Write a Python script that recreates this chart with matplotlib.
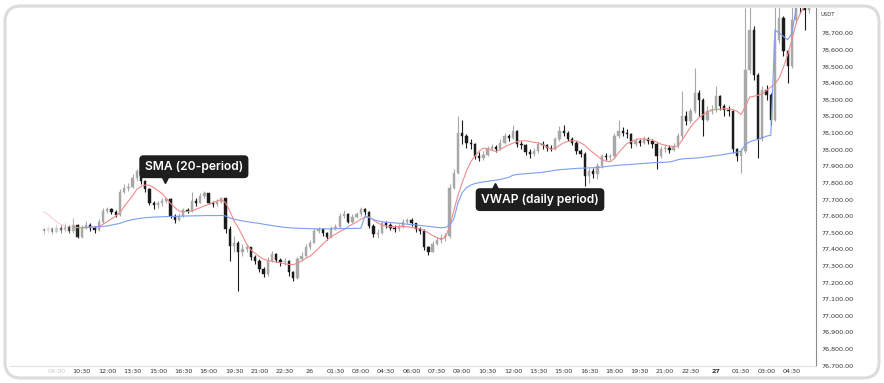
import numpy as np
import matplotlib.pyplot as plt
from matplotlib.patches import FancyBboxPatch

# 15-minute candles, starting 08:15 on the 25th
close = [77510, 77525, 77505, 77530, 77515, 77535, 77510, 77545, 77475, 77530,
         77545, 77525, 77515, 77565, 77630, 77640, 77625, 77605, 77745, 77765,
         77775, 77830, 77870, 77810, 77760, 77680, 77665, 77675, 77690, 77700,
         77600, 77575, 77600, 77635, 77630, 77690, 77680, 77720, 77735, 77680,
         77670, 77685, 77705, 77520, 77420, 77440, 77380, 77400, 77410, 77350,
         77330, 77280, 77250, 77330, 77370, 77335, 77320, 77330, 77260, 77225,
         77340, 77360, 77410, 77440, 77510, 77520, 77495, 77475, 77525, 77535,
         77600, 77610, 77565, 77595, 77610, 77640, 77625, 77540, 77490, 77495,
         77555, 77545, 77530, 77520, 77535, 77565, 77575, 77555, 77520, 77510,
         77410, 77385, 77430, 77455, 77470, 77480, 77770, 77860, 78100, 78080,
         78040, 78030, 77960, 77950, 77965, 78000, 78015, 78005, 78040, 78080,
         78070, 78110, 78030, 78025, 77985, 77970, 77990, 78030, 78025, 78010,
         78005, 78060, 78110, 78100, 78065, 78040, 77990, 77975, 77840, 77870,
         77850, 77900, 77960, 77955, 77960, 78080, 78110, 78100, 78090, 78030,
         78050, 78040, 78060, 78050, 78030, 77960, 78000, 78010, 77995, 78020,
         78080, 78200, 78170, 78230, 78340, 78300, 78180, 78230, 78240, 78320,
         78260, 78240, 78230, 78000, 77960, 77990, 78480, 78720, 78450, 78060,
         78360, 78330, 78180, 78660, 78790, 78590, 78500, 78780, 78900, 78870,
         78840, 78880]
high = [77530, 77545, 77530, 77550, 77545, 77555, 77545, 77590, 77550, 77545,
        77570, 77560, 77540, 77580, 77650, 77655, 77650, 77635, 77760, 77790,
        77800, 77850, 77885, 77870, 77815, 77765, 77690, 77690, 77705, 77715,
        77705, 77610, 77615, 77650, 77650, 77745, 77710, 77740, 77750, 77740,
        77690, 77700, 77715, 77710, 77540, 77480, 77450, 77430, 77430, 77415,
        77365, 77340, 77290, 77350, 77390, 77375, 77345, 77345, 77335, 77270,
        77355, 77380, 77430, 77455, 77525, 77535, 77530, 77505, 77540, 77550,
        77620, 77635, 77615, 77610, 77625, 77655, 77650, 77630, 77550, 77520,
        77570, 77570, 77555, 77545, 77550, 77580, 77590, 77585, 77560, 77535,
        77520, 77420, 77450, 77475, 77490, 77500, 77790, 77880, 78200, 78180,
        78090, 78060, 78040, 77985, 77990, 78020, 78030, 78025, 78060, 78100,
        78095, 78150, 78115, 78050, 78035, 78000, 78010, 78045, 78050, 78035,
        78025, 78075, 78140, 78150, 78110, 78075, 78050, 78005, 77985, 77890,
        77890, 77920, 77975, 77980, 77975, 78100, 78175, 78135, 78120, 78100,
        78070, 78065, 78080, 78075, 78060, 78040, 78020, 78030, 78025, 78040,
        78100, 78350, 78230, 78250, 78490, 78360, 78310, 78260, 78265, 78380,
        78330, 78275, 78260, 78240, 78010, 78010, 78850, 78860, 78740, 78460,
        78380, 78390, 78340, 78860, 78860, 78800, 78600, 78900, 78950, 78950,
        78880, 78920]
low = [77490, 77500, 77490, 77495, 77500, 77505, 77495, 77500, 77465, 77470,
       77520, 77510, 77500, 77510, 77560, 77615, 77610, 77595, 77600, 77735,
       77750, 77765, 77815, 77795, 77745, 77665, 77640, 77645, 77660, 77680,
       77585, 77560, 77570, 77595, 77615, 77625, 77660, 77675, 77705, 77670,
       77655, 77660, 77675, 77500, 77330, 77380, 77150, 77360, 77380, 77335,
       77310, 77260, 77230, 77240, 77320, 77320, 77300, 77305, 77240, 77210,
       77220, 77330, 77355, 77400, 77435, 77495, 77480, 77455, 77470, 77515,
       77530, 77585, 77555, 77560, 77585, 77600, 77605, 77530, 77475, 77470,
       77490, 77530, 77515, 77505, 77510, 77530, 77550, 77540, 77505, 77490,
       77395, 77365, 77380, 77425, 77440, 77450, 77470, 77760, 77850, 78030,
       78010, 78000, 77940, 77930, 77935, 77960, 77995, 77985, 77995, 78030,
       78050, 78060, 78015, 78005, 77965, 77950, 77960, 77980, 78005, 77990,
       77990, 77995, 78050, 78080, 78050, 78025, 77975, 77955, 77780, 77800,
       77830, 77820, 77890, 77935, 77935, 77950, 78070, 78080, 78070, 78010,
       78020, 78020, 78035, 78035, 78010, 77880, 77950, 77985, 77980, 77990,
       78010, 78070, 78150, 78160, 78220, 78200, 78080, 78170, 78215, 78225,
       78240, 78200, 78200, 77980, 77930, 77860, 77980, 78460, 78420, 77950,
       78050, 78300, 78150, 78170, 78640, 78560, 78400, 78490, 78760, 78820,
       78720, 78820]
first_open = 77520

sma20 = [77625, 77610, 77585, 77565, 77550, 77540, 77535, 77532, 77530, 77529,
         77530, 77532, 77534, 77537, 77550, 77566, 77582, 77598, 77620, 77655,
         77690, 77720, 77760, 77778, 77786, 77785, 77770, 77752, 77735, 77705,
         77675, 77650, 77630, 77625, 77626, 77630, 77640, 77650, 77660, 77670,
         77680, 77690, 77698, 77680, 77630, 77570, 77530, 77480, 77430, 77395,
         77375, 77355, 77340, 77332, 77327, 77322, 77318, 77312, 77308, 77307,
         77315, 77330, 77345, 77358, 77380, 77405, 77430, 77455, 77475, 77490,
         77505, 77518, 77535, 77550, 77563, 77580, 77592, 77593, 77575, 77558,
         77545, 77538, 77535, 77535, 77536, 77537, 77535, 77530, 77527, 77522,
         77514, 77498, 77482, 77469, 77460, 77470, 77535, 77630, 77725, 77800,
         77870, 77925, 77960, 77990, 78008, 78005, 77995, 77988, 78000, 78015,
         78027, 78038, 78047, 78052, 78052, 78048, 78043, 78040, 78030, 78015,
         78002, 78005, 78025, 78040, 78048, 78052, 78052, 78040, 78025, 78000,
         77980, 77960, 77940, 77930, 77926, 77945, 77980, 78010, 78035, 78048,
         78058, 78064, 78063, 78060, 78055, 78045, 78032, 78025, 78020, 78016,
         78020, 78055, 78095, 78135, 78165, 78190, 78210, 78225, 78237, 78240,
         78242, 78245, 78246, 78240, 78230, 78210, 78260, 78315, 78320, 78326,
         78335, 78355, 78375, 78395, 78430, 78495, 78570, 78660, 78760, 78820,
         78860, 78900]

vwap = [np.nan] * 9 + [
    77530, 77530, 77532, 77533, 77535, 77537, 77540, 77545, 77550, 77555,
    77565, 77572, 77578, 77582, 77586, 77589, 77591, 77593, 77594, 77595,
    77596, 77597, 77597, 77598, 77599, 77600, 77600, 77601, 77601, 77602,
    77602, 77602, 77602, 77603, 77600, 77588, 77580, 77575, 77570, 77566,
    77562, 77558, 77555, 77550, 77546, 77542, 77538, 77534, 77531, 77529,
    77527, 77526, 77525, 77524, 77523, 77523, 77522, 77522, 77522, 77522,
    77523, 77523, 77524, 77524, 77525, 77525, 77526, 77600, 77590, 77578,
    77570, 77565, 77562, 77560, 77558, 77556, 77553, 77550, 77548, 77546,
    77543, 77540, 77537, 77534, 77531, 77529, 77530, 77545, 77580, 77680,
    77740, 77770, 77785, 77795, 77800, 77805, 77808, 77812, 77815, 77820,
    77825, 77832, 77845, 77849, 77852, 77854, 77856, 77858, 77860, 77863,
    77867, 77870, 77875, 77878, 77880, 77882, 77884, 77886, 77887, 77888,
    77889, 77890, 77891, 77894, 77897, 77900, 77903, 77905, 77907, 77908,
    77910, 77912, 77914, 77916, 77918, 77920, 77921, 77922, 77923, 77925,
    77930, 77938, 77943, 77945, 77946, 77948, 77950, 77953, 77956, 77960,
    77963, 77966, 77970, 77975, 77980, 77983, 77990, 78030, 78045, 78055,
    78060, 78070, 78080, 78085, 78720, 78700, 78680, 78660, 78700, 78850,
    78900, 78920, 78940]

tick_labels = ['09:00', '10:30', '12:00', '13:30', '15:00', '16:30', '18:00',
               '19:30', '21:00', '22:30', '26', '01:30', '03:00', '04:30',
               '06:00', '07:30', '09:00', '10:30', '12:00', '13:30', '15:00',
               '16:30', '18:00', '19:30', '21:00', '22:30', '27', '01:30',
               '03:00', '04:30']
price_ticks = list(range(76700, 78701, 100))

n = len(close)
idx = np.arange(n)
opens = np.array([first_open] + close[:-1])
close = np.array(close)
high = np.array(high)
low = np.array(low)

W, H = 884, 383
fig = plt.figure(figsize=(W / 100, H / 100), dpi=100)
fig.patch.set_facecolor('white')

# card background
bg = fig.add_axes([0, 0, 1, 1], zorder=0)
bg.set_xlim(0, W)
bg.set_ylim(H, 0)
bg.axis('off')
bg.add_patch(FancyBboxPatch((5, 6), W - 10, H - 11,
                            boxstyle='round,pad=0,rounding_size=16',
                            facecolor='white', edgecolor='#dcdcdc', lw=2.2))

ax = fig.add_axes([10 / W, 1 - 366 / H, (816 - 10) / W, (366 - 8) / H], zorder=2)
ax.set_facecolor('none')
ax.set_xlim(-8, 182.7)
ax.set_ylim(76697, 78851)

up_col, dn_col = '#a8a8a8', '#1c1c1c'
fade = np.clip((idx + 1) / 10.0, 0.25, 1.0)
for i in idx:
    col = up_col if close[i] >= opens[i] else dn_col
    a = fade[i] if i < 10 else 1.0
    ax.vlines(i, low[i], high[i], color=col, lw=0.8, alpha=a, zorder=3)
    lo, hi = min(opens[i], close[i]), max(opens[i], close[i])
    ax.bar(i, max(hi - lo, 3), bottom=lo, width=0.55, color=col,
           edgecolor=col, lw=0.3, alpha=a, zorder=3)

ax.plot(idx[:8], sma20[:8], color='#f4a3a3', lw=0.8, alpha=0.5, zorder=4)
ax.plot(idx[7:], sma20[7:], color='#f08a8a', lw=0.8, zorder=4)
ax.plot(idx, vwap, color='#7b9ff2', lw=0.8, zorder=4)

# axes styling
for s in ['top', 'left']:
    ax.spines[s].set_visible(False)
ax.spines['right'].set_color('#8a8a8a')
ax.spines['right'].set_linewidth(0.8)
ax.spines['bottom'].set_color('#e2e2e2')
ax.spines['bottom'].set_linewidth(0.8)
ax.yaxis.tick_right()
ax.set_yticks(price_ticks)
ax.set_yticklabels([f'{p:,.2f}' for p in price_ticks])
ax.tick_params(axis='y', length=0, pad=4, labelsize=4.6, colors='#333333')
ax.set_xticks(np.arange(3, 3 + 6 * len(tick_labels), 6))
ax.set_xticklabels(tick_labels)
ax.tick_params(axis='x', length=0, pad=2, labelsize=4.6, colors='#333333')
xl = ax.get_xticklabels()
xl[0].set_color('#c8c8c8')
xl[26].set_fontweight('bold')

# currency box at the top of the price scale
ax.text(1.006, 0.99, 'USDT', transform=ax.transAxes, fontsize=3.8,
        color='#333333', ha='left', va='top', zorder=6,
        bbox=dict(boxstyle='round,pad=0.5,rounding_size=0.4', fc='white',
                  ec='#eeeeee', lw=0.5), clip_on=False)

# callouts
box = dict(boxstyle='round,pad=0.45,rounding_size=0.35', fc='#1e1e1e', ec='none')
ax.text(35.5, 77896, 'SMA (20-period)', fontsize=8.7, family='Inter',
        weight='semibold', color='white', ha='center', va='center', bbox=box, zorder=8)
ax.plot(28.6, 77814, marker='v', ms=4.5, color='#1e1e1e', zorder=8)
ax.text(117.4, 77698, 'VWAP (daily period)', fontsize=8.7, family='Inter',
        weight='semibold', color='white', ha='center', va='center', bbox=box, zorder=8)
ax.plot(106.7, 77782, marker='^', ms=4.5, color='#1e1e1e', zorder=8)

fig.savefig('out.png', dpi=100)
